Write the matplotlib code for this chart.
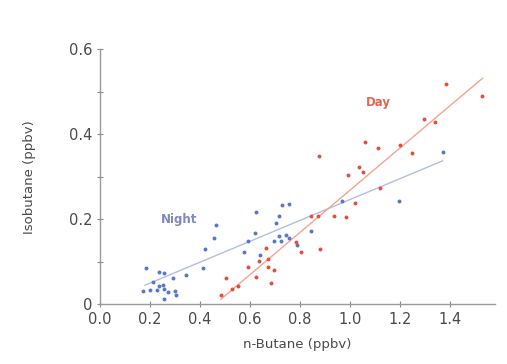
import matplotlib.pyplot as plt

# night samples (n-butane, isobutane)
night_x = [0.173, 0.184, 0.200, 0.213, 0.228, 0.237, 0.236, 0.255, 0.253, 0.255, 0.257, 0.271,
           0.293, 0.300, 0.305, 0.344, 0.411, 0.421, 0.456, 0.463, 0.577, 0.593, 0.620, 0.623,
           0.639, 0.697, 0.703, 0.716, 0.717, 0.723, 0.728, 0.744, 0.755, 0.757, 0.789, 0.843,
           0.967, 1.197, 1.371]
night_y = [0.032, 0.085, 0.033, 0.052, 0.033, 0.077, 0.043, 0.073, 0.046, 0.035, 0.013, 0.029,
           0.062, 0.032, 0.021, 0.069, 0.085, 0.129, 0.155, 0.187, 0.123, 0.150, 0.168, 0.217,
           0.116, 0.150, 0.192, 0.160, 0.208, 0.149, 0.234, 0.164, 0.236, 0.155, 0.139, 0.172,
           0.243, 0.243, 0.358]

# day samples
day_x = [0.484, 0.503, 0.529, 0.553, 0.593, 0.623, 0.635, 0.665, 0.673, 0.671, 0.685, 0.697,
         0.785, 0.804, 0.844, 0.871, 0.875, 0.879, 0.936, 0.983, 0.991, 1.020, 1.035, 1.053,
         1.060, 1.113, 1.121, 1.199, 1.249, 1.296, 1.339, 1.384, 1.527]
day_y = [0.022, 0.061, 0.037, 0.044, 0.087, 0.064, 0.101, 0.133, 0.106, 0.088, 0.049, 0.081,
         0.147, 0.124, 0.207, 0.207, 0.349, 0.130, 0.208, 0.206, 0.304, 0.239, 0.322, 0.311,
         0.381, 0.368, 0.274, 0.375, 0.355, 0.437, 0.428, 0.519, 0.489]

# fit lines (end points)
night_fit_x = [0.18, 1.371]
night_fit_y = [0.045, 0.3375]
day_fit_x = [0.484, 1.531]
day_fit_y = [0.012, 0.532]

xticks = [0.0, 0.2, 0.4, 0.6, 0.8, 1.0, 1.2, 1.4]
yticks = [0, 0.2, 0.4, 0.6]
yminor = [0.1, 0.3, 0.5]

blue = '#5877c8'
red = '#e0503e'
txt = '#4a4a4a'

fig = plt.figure(figsize=(5.07, 3.64), dpi=100)
ax = fig.add_axes([0.1972, 0.164, 0.7788, 0.7006])

ax.plot(night_fit_x, night_fit_y, color='#b4bde6', lw=1.0, zorder=1)
ax.plot(day_fit_x, day_fit_y, color='#f4a48e', lw=1.0, zorder=1)
ax.scatter(night_x, night_y, s=8, color=blue, zorder=2, linewidths=0)
ax.scatter(day_x, day_y, s=8, color=red, zorder=2, linewidths=0)

ax.text(0.316, 0.2, 'Night', color='#8088c0', fontsize=8.5, fontweight='bold',
        ha='center', va='center')
ax.text(1.113, 0.475, 'Day', color='#e2664e', fontsize=8.5, fontweight='bold',
        ha='center', va='center')

ax.set_xlim(0, 1.58)
ax.set_ylim(0, 0.6)
ax.set_xticks(xticks)
ax.set_xticklabels(['%.1f' % v for v in xticks])
ax.set_yticks(yticks)
ax.set_yticklabels(['0', '0.2', '0.4', '0.6'])
ax.set_yticks(yminor, minor=True)

for s in ['top', 'right']:
    ax.spines[s].set_visible(False)
for s in ['left', 'bottom']:
    ax.spines[s].set_color('#9a9a9a')
    ax.spines[s].set_linewidth(1.0)

ax.tick_params(axis='both', which='both', colors='#8a8a8a', labelcolor=txt,
               labelsize=10.5, direction='inout', length=5, width=0.8)
ax.tick_params(axis='x', pad=3)
ax.tick_params(axis='y', pad=3)

ax.set_xlabel('n-Butane (ppbv)', color=txt, fontsize=9.5, labelpad=8)
ax.set_ylabel('Isobutane (ppbv)', color=txt, fontsize=9.5, labelpad=24)

fig.savefig('out.png', dpi=100)
